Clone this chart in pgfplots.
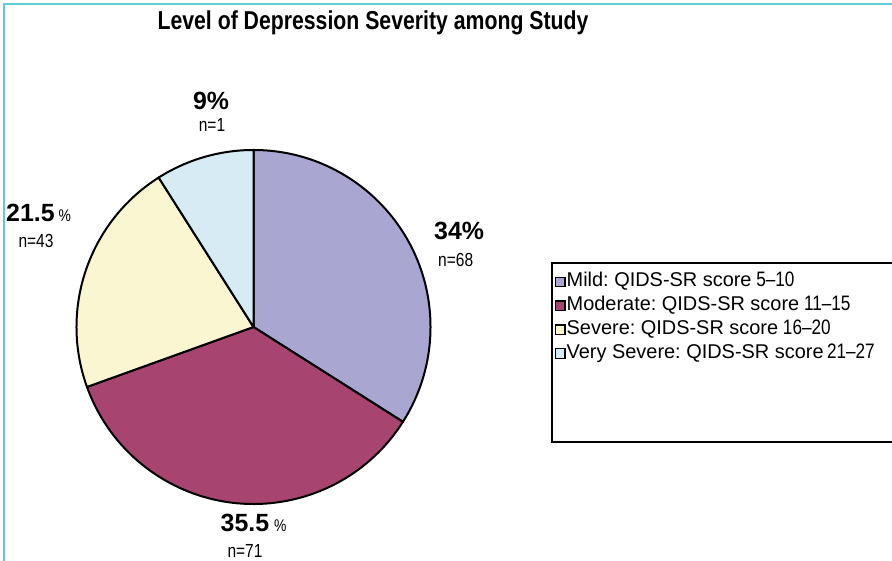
\documentclass[border=0pt]{standalone}
\usepackage{pgfplots}
\pgfplotsset{compat=1.18}
\usepackage{pgfplotstable}
\usepackage{fontspec}
\setmainfont{Liberation Sans}
\newfontfamily\narrowfont[FakeStretch=0.82]{Liberation Sans}
\definecolor{cMild}{HTML}{A9A6D2}
\definecolor{cModerate}{HTML}{A84470}
\definecolor{cSevere}{HTML}{FAF6D2}
\definecolor{cVSevere}{HTML}{D6EBF3}
\definecolor{frame}{HTML}{5FCDD7}
\frenchspacing

\pgfplotstableread{
value n
34   68
35.5 71
21.5 43
9    1
}\piedata

\begin{document}
\begin{tikzpicture}[x=1bp,y=1bp]
\path[use as bounding box] (0,0) rectangle (892,561);
\fill[white] (0,0) rectangle (892,561);
\draw[frame, line width=2.5bp] (4,0) -- (4,557) -- (892,557);

\pgfplotstablegetelem{0}{value}\of\piedata \let\va\pgfplotsretval
\pgfplotstablegetelem{1}{value}\of\piedata \let\vb\pgfplotsretval
\pgfplotstablegetelem{2}{value}\of\piedata \let\vc\pgfplotsretval
\pgfplotstablegetelem{3}{value}\of\piedata \let\vd\pgfplotsretval
\pgfmathsetmacro\aA{90}
\pgfmathsetmacro\aB{\aA-3.6*\va}
\pgfmathsetmacro\aC{\aB-3.6*\vb}
\pgfmathsetmacro\aD{\aC-3.6*\vc}
\pgfmathsetmacro\aE{\aD-3.6*\vd}

\begin{axis}[at={(76.5bp,57bp)}, anchor=south west, scale only axis,
  width=354bp, height=354bp, xmin=-1, xmax=1, ymin=-1, ymax=1,
  hide axis, clip=false]
\filldraw[fill=cMild, draw=black, line width=2bp, line join=round]
  (axis cs:0,0) -- (axis cs:{cos(\aA)},{sin(\aA)}) arc[start angle=\aA, end angle=\aB, radius=177bp] -- cycle;
\filldraw[fill=cModerate, draw=black, line width=2bp, line join=round]
  (axis cs:0,0) -- (axis cs:{cos(\aB)},{sin(\aB)}) arc[start angle=\aB, end angle=\aC, radius=177bp] -- cycle;
\filldraw[fill=cSevere, draw=black, line width=2bp, line join=round]
  (axis cs:0,0) -- (axis cs:{cos(\aC)},{sin(\aC)}) arc[start angle=\aC, end angle=\aD, radius=177bp] -- cycle;
\filldraw[fill=cVSevere, draw=black, line width=2bp, line join=round]
  (axis cs:0,0) -- (axis cs:{cos(\aD)},{sin(\aD)}) arc[start angle=\aD, end angle=\aE, radius=177bp] -- cycle;
\end{axis}

% title
\node[anchor=base, inner sep=0, font=\narrowfont\bfseries\fontsize{26}{26}\selectfont] at (373,531) {Level of Depression Severity among Study};

% slice labels
\node[anchor=base, inner sep=0, font=\bfseries\fontsize{25}{25}\selectfont] at (211,451) {9\%};
\node[anchor=base, inner sep=0, font=\narrowfont\fontsize{19}{19}\selectfont] at (212,429) {n=1};

\node[anchor=base west, inner sep=0] at (6,339) {{\bfseries\fontsize{25}{25}\selectfont 21.5}\hspace{4bp}{\narrowfont\fontsize{17}{17}\selectfont\%}};
\node[anchor=base, inner sep=0, font=\narrowfont\fontsize{19}{19}\selectfont] at (36,313) {n=43};

\node[anchor=base west, inner sep=0, font=\bfseries\fontsize{25}{25}\selectfont] at (434,321) {34\%};
\node[anchor=base west, inner sep=0, font=\narrowfont\fontsize{19}{19}\selectfont] at (438,294) {n=68};

\node[anchor=base west, inner sep=0] at (220.5,29) {{\bfseries\fontsize{25}{25}\selectfont 35.5}\hspace{5bp}{\narrowfont\fontsize{17}{17}\selectfont\%}};
\node[anchor=base, inner sep=0, font=\narrowfont\fontsize{19}{19}\selectfont] at (245,3) {n=71};

% legend
\draw[black, line width=2bp] (895,119) -- (552,119) -- (552,298) -- (895,298);
\foreach \c/\t/\r/\b in {cMild/{Mild: QIDS-SR score}/{\ 5–10}/274.3,
                         cModerate/{Moderate: QIDS-SR score}/{\ 11–15}/250.5,
                         cSevere/{Severe: QIDS-SR score}/{\ 16–20}/226.6,
                         cVSevere/{Very Severe: QIDS-SR score}/{\,21–27}/202.7} {
  \filldraw[fill=\c, draw=black, line width=1.3bp] (555.5,\b) rectangle (565,\b+9.5);
  \node[anchor=base west, inner sep=0, font=\fontsize{20}{20}\selectfont] at (566.5,\b) {\t{\narrowfont\fontsize{21}{21}\selectfont\r}};
}
\end{tikzpicture}
\end{document}
